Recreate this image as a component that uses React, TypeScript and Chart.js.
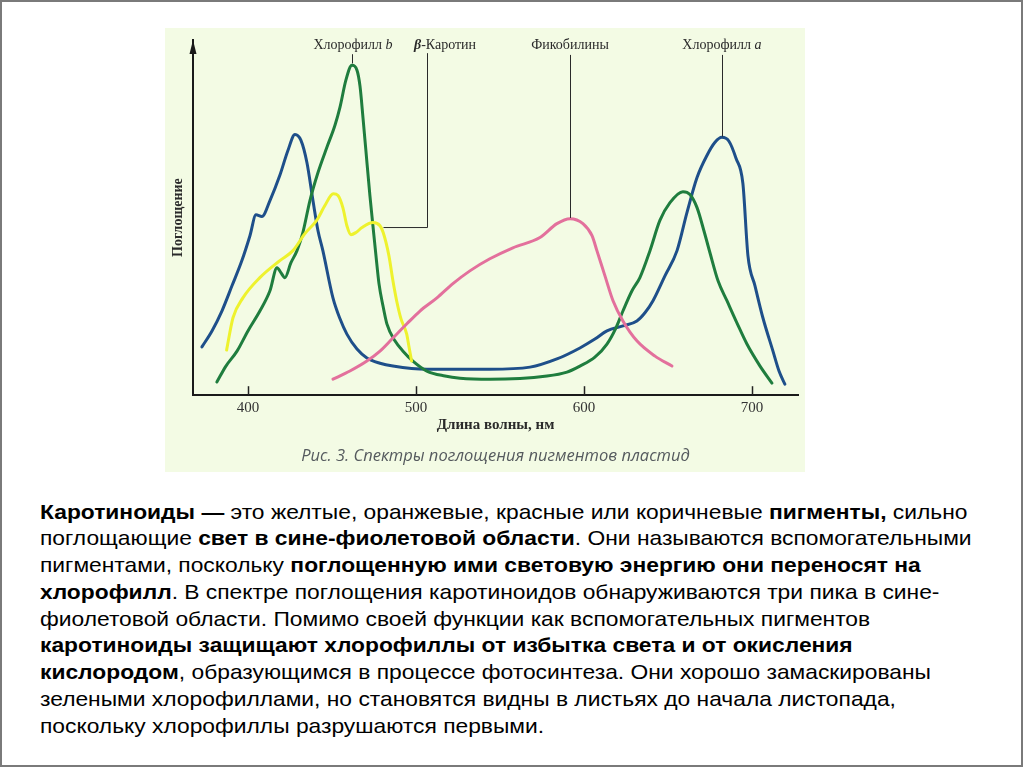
import React, { useEffect, useRef } from 'react';
import { Chart, registerables } from 'chart.js';

Chart.register(...registerables);

// ---- data (wavelength, nm / relative absorption) ----
const chlAWavelength = [372.6, 378.6, 384.5, 390.5, 396.4, 401.2, 404.8, 408.3, 413.1, 419.0, 423.8, 428.0, 431.5, 435.1, 438.7, 441.7, 444.6, 450.6, 454.8, 458.9, 464.9, 470.8, 478.6, 486.3, 506.5, 544.0, 567.9, 583.9, 597.6, 606.5, 613.7, 623.2, 631.5, 636.3, 641.1, 648.2, 655.4, 661.3, 667.3, 673.2, 678.0, 682.1, 686.3, 690.5, 694.6, 697.6, 701.8, 706.5, 712.5, 716.1, 719.6];
const chlAAbsorption = [13.6, 18.1, 23.7, 30.8, 37.9, 44.9, 50.8, 50.3, 54.8, 61.9, 68.9, 73.4, 71.8, 65.5, 54.8, 46.3, 40.7, 27.4, 21.5, 17.2, 13.0, 10.5, 9.0, 8.2, 7.3, 7.3, 7.9, 10.2, 13.3, 15.8, 18.1, 19.5, 20.9, 23.2, 26.6, 33.6, 40.7, 51.4, 61.3, 67.5, 71.2, 72.6, 71.5, 66.7, 59.6, 39.3, 30.8, 21.8, 12.4, 6.8, 3.1];

const chlBWavelength = [381.5, 386.9, 393.5, 400.0, 407.1, 413.1, 417.3, 419.6, 422.0, 425.6, 429.2, 432.7, 436.9, 441.7, 447.0, 451.8, 454.8, 458.3, 461.9, 464.9, 466.7, 468.5, 470.2, 472.6, 474.4, 476.2, 478.0, 480.4, 482.7, 487.5, 492.3, 498.2, 506.5, 517.3, 526.2, 544.0, 578.0, 589.9, 597.6, 606.5, 613.7, 619.0, 623.2, 628.6, 633.3, 639.3, 645.2, 651.2, 658.9, 663.1, 667.3, 671.4, 675.0, 679.8, 685.1, 691.1, 697.0, 704.8, 711.9];
const chlBAbsorption = [3.7, 8.2, 12.4, 18.1, 23.7, 29.4, 35.9, 34.5, 33.1, 37.3, 40.7, 45.8, 54.8, 62.7, 69.8, 76.0, 81.1, 88.7, 92.9, 91.5, 87.0, 78.0, 68.9, 56.2, 47.7, 39.3, 31.4, 25.1, 20.1, 15.3, 12.4, 9.6, 6.8, 5.4, 4.8, 4.5, 5.4, 6.5, 8.2, 10.7, 14.4, 18.9, 23.7, 29.4, 33.1, 40.7, 49.2, 54.2, 57.3, 56.5, 52.8, 46.3, 40.1, 32.2, 26.6, 20.3, 14.4, 8.2, 3.4];

const caroteneWavelength = [387.3, 391.1, 397.0, 407.1, 419.0, 426.8, 433.9, 440.9, 445.8, 450.8, 453.6, 456.5, 458.9, 461.3, 464.3, 467.9, 474.4, 478.6, 480.5, 483.9, 486.3, 488.5, 491.1, 494.5, 495.8, 497.4];
const caroteneAbsorption = [12.7, 21.8, 27.4, 33.1, 37.9, 40.7, 45.5, 49.2, 53.4, 56.7, 56.2, 52.8, 47.7, 45.2, 45.8, 47.2, 48.6, 47.7, 45.8, 39.3, 32.2, 26.6, 21.5, 17.2, 13.8, 9.6];

const phycobilinWavelength = [450.6, 460.7, 470.8, 478.6, 486.3, 494.6, 502.4, 512.5, 522.0, 532.1, 544.0, 557.7, 573.8, 583.9, 591.7, 599.4, 604.8, 607.7, 612.5, 617.3, 623.2, 631.5, 642.3, 652.4];
const phycobilinAbsorption = [4.5, 6.8, 9.6, 12.4, 16.1, 20.1, 23.7, 27.4, 31.4, 35.0, 38.4, 41.5, 44.4, 48.3, 49.7, 48.3, 44.9, 40.7, 33.6, 26.6, 20.9, 15.3, 11.0, 8.2];

const xTickValues = [400, 500, 600, 700];

// pigment labels: text, italic suffix, label centre (nm)
const labelTexts = ['Хлорофилл', 'β-Каротин', 'Фикобилины', 'Хлорофилл'];
const labelSuffixes = ['b', '', '', 'a'];
const labelCentres = [462.5, 517.3, 591.7, 682.1];
const labelLevel = 98.6;
// leader lines (nm, absorption)
const leaderLines: number[][][] = [
  [[461.9, 96.0], [461.9, 93.4]],
  [[506.5, 96.3], [506.5, 47.2], [480.4, 47.2]],
  [[591.7, 95.8], [591.7, 49.9]],
  [[682.1, 95.8], [682.1, 72.8]],
];

const pts = (xs: number[], ys: number[]) => xs.map((x, i) => ({ x, y: ys[i] }));

const overlayPlugin = {
  id: 'figureOverlay',
  afterDraw(chart: any) {
    const { ctx, chartArea, scales } = chart;
    const xs = scales.x;
    const ys = scales.y;
    ctx.save();
    // inner tick marks
    ctx.strokeStyle = '#222';
    ctx.lineWidth = 1.5;
    for (const t of xTickValues) {
      const px = Math.round(xs.getPixelForValue(t)) + 0.5;
      ctx.beginPath();
      ctx.moveTo(px, chartArea.bottom);
      ctx.lineTo(px, chartArea.bottom - 9);
      ctx.stroke();
    }
    // arrow on y axis
    const ax = chartArea.left;
    const top = chartArea.top;
    ctx.fillStyle = '#1a1a1a';
    ctx.beginPath();
    ctx.moveTo(ax, top);
    ctx.lineTo(ax - 3.5, top + 14);
    ctx.lineTo(ax + 3.5, top + 14);
    ctx.closePath();
    ctx.fill();
    // leader lines
    ctx.strokeStyle = '#2a2a2a';
    ctx.lineWidth = 1;
    for (const line of leaderLines) {
      ctx.beginPath();
      line.forEach(([nm, v], i) => {
        const px = Math.round(xs.getPixelForValue(nm)) + 0.5;
        const py = ys.getPixelForValue(v);
        if (i === 0) ctx.moveTo(px, py);
        else ctx.lineTo(px, py);
      });
      ctx.stroke();
    }
    // labels
    ctx.fillStyle = '#2a2a2a';
    ctx.textBaseline = 'middle';
    ctx.textAlign = 'left';
    labelTexts.forEach((txt, i) => {
      const suffix = labelSuffixes[i];
      const cx = xs.getPixelForValue(labelCentres[i]);
      const cy = ys.getPixelForValue(labelLevel);
      const mainFont = '14px "Liberation Serif"';
      const sufFont = 'italic 14px "Liberation Serif"';
      ctx.font = mainFont;
      const main = suffix ? txt + ' ' : txt;
      const w1 = ctx.measureText(main).width;
      ctx.font = sufFont;
      const w2 = suffix ? ctx.measureText(suffix).width : 0;
      const x0 = cx - (w1 + w2) / 2;
      if (txt.startsWith('β')) {
        ctx.font = 'bold italic 14px "Liberation Serif"';
        const wb = ctx.measureText('β').width;
        ctx.fillText('β', x0, cy);
        ctx.font = mainFont;
        ctx.fillText(txt.slice(1), x0 + wb, cy);
      } else {
        ctx.font = mainFont;
        ctx.fillText(main, x0, cy);
        if (suffix) {
          ctx.font = sufFont;
          ctx.fillText(suffix, x0 + w1, cy);
        }
      }
    });
    ctx.restore();
  },
};

function SpectraChart() {
  const ref = useRef<HTMLCanvasElement | null>(null);
  useEffect(() => {
    if (!ref.current) return;
    const common = {
      borderWidth: 3,
      pointRadius: 0,
      fill: false,
      cubicInterpolationMode: 'monotone' as const,
      borderCapStyle: 'round' as const,
      borderJoinStyle: 'round' as const,
    };
    const chart = new Chart(ref.current, {
      type: 'line',
      data: {
        datasets: [
          { label: 'Фикобилины', data: pts(phycobilinWavelength, phycobilinAbsorption), borderColor: '#e3709c', ...common },
          { label: 'β-Каротин', data: pts(caroteneWavelength, caroteneAbsorption), borderColor: '#eef22e', ...common },
          { label: 'Хлорофилл b', data: pts(chlBWavelength, chlBAbsorption), borderColor: '#1f7d3e', ...common },
          { label: 'Хлорофилл a', data: pts(chlAWavelength, chlAAbsorption), borderColor: '#1e4f8a', ...common },
        ],
      },
      options: {
        animation: false,
        responsive: false,
        maintainAspectRatio: false,
        events: [],
        layout: { padding: { left: 4, right: 7, top: 12, bottom: 0 } },
        plugins: {
          legend: { display: false },
          tooltip: { enabled: false },
          title: {
            display: true,
            position: 'bottom',
            fullSize: false,
            text: 'Рис. 3. Спектры поглощения пигментов пластид',
            color: '#555a5e',
            font: { family: '"Open Sans"', size: 16.5, style: 'italic', weight: 'normal' },
            padding: { top: 9, bottom: 6 },
          },
        },
        scales: {
          x: {
            type: 'linear',
            min: 367.3,
            max: 727.4,
            afterBuildTicks: (scale: any) => {
              scale.ticks = xTickValues.map((value) => ({ value }));
            },
            grid: { display: false, drawTicks: false },
            border: { display: true, color: '#1a1a1a', width: 2 },
            ticks: {
              color: '#333',
              padding: 4,
              font: { family: '"Liberation Serif"', size: 15 },
              maxRotation: 0,
            },
            title: {
              display: true,
              text: 'Длина волны, нм',
              color: '#2a2a2a',
              font: { family: '"Liberation Serif"', size: 15, weight: 'bold' },
              padding: { top: -5, bottom: 3 },
            },
          },
          y: {
            type: 'linear',
            min: 0,
            max: 100,
            grid: { display: false, drawTicks: false },
            border: { display: true, color: '#1a1a1a', width: 2 },
            ticks: { display: false },
            title: {
              display: true,
              text: 'Поглощение',
              color: '#2a2a2a',
              font: { family: '"Liberation Serif"', size: 14, weight: 'bold' },
              padding: { top: 0.6, bottom: 6.6 },
            },
          },
        },
      },
      plugins: [overlayPlugin],
    } as any);
    return () => chart.destroy();
  }, []);
  return <canvas ref={ref} width={640} height={444} style={{ width: 640, height: 444, display: 'block' }} />;
}

const textLines: React.ReactNode[] = [
  <><b>Каротиноиды —</b> это желтые, оранжевые, красные или коричневые <b>пигменты,</b> сильно</>,
  <>поглощающие <b>свет в сине-фиолетовой области</b>. Они называются вспомогательными</>,
  <>пигментами, поскольку <b>поглощенную ими световую энергию они переносят на</b></>,
  <><b>хлорофилл</b>. В спектре поглощения каротиноидов обнаруживаются три пика в сине-</>,
  <>фиолетовой области. Помимо своей функции как вспомогательных пигментов</>,
  <><b>каротиноиды защищают хлорофиллы от избытка света и от окисления</b></>,
  <><b>кислородом</b>, образующимся в процессе фотосинтеза. Они хорошо замаскированы</>,
  <>зелеными хлорофиллами, но становятся видны в листьях до начала листопада,</>,
  <>поскольку хлорофиллы разрушаются первыми.</>,
];

export default function App() {
  return (
    <div
      style={{
        position: 'absolute',
        left: 0,
        top: 0,
        width: 1023,
        height: 767,
        boxSizing: 'border-box',
        border: '2px solid #7a7a7a',
        background: '#ffffff',
        overflow: 'hidden',
      }}
    >
      <div style={{ position: 'absolute', left: 163, top: 26, width: 640, height: 444, background: '#f3fbe4' }}>
        <SpectraChart />
      </div>
      <div
        style={{
          position: 'absolute',
          left: 38,
          top: 496.7,
          fontFamily: '"Liberation Sans", Arial, sans-serif',
          fontSize: 21,
          lineHeight: '26.75px',
          color: '#000',
          transform: 'scaleX(1.086)',
          transformOrigin: '0 0',
        }}
      >
        {textLines.map((l, i) => (
          <div key={i} style={{ whiteSpace: 'nowrap' }}>{l}</div>
        ))}
      </div>
    </div>
  );
}
